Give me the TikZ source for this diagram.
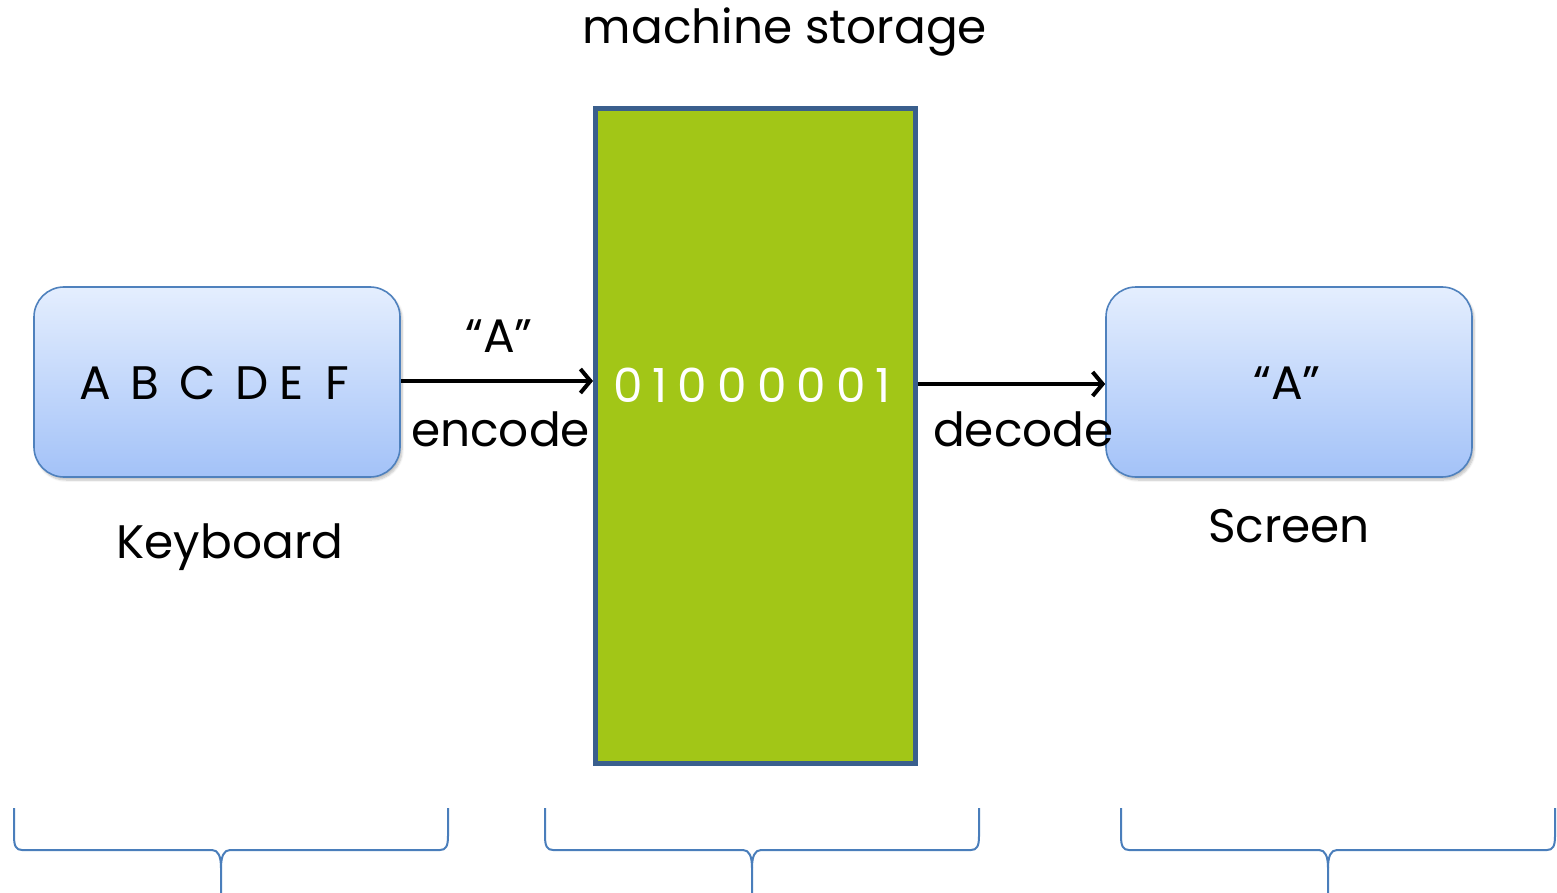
\documentclass[tikz,border=0pt]{standalone}
\usepackage{fontspec}
\setmainfont{Poppins}
\usetikzlibrary{arrows.meta,shadows.blur}

\definecolor{boxtop}{HTML}{E4EEFE}
\definecolor{boxbot}{HTML}{A3C2F8}
\definecolor{boxline}{HTML}{4F81BD}
\definecolor{storefill}{HTML}{A2C617}
\definecolor{storeline}{HTML}{3A5F8D}
\definecolor{braceline}{HTML}{4A7EBB}

% a curly bracket opening upwards: left end, middle, right end
\newcommand{\groupbrace}[3]{%
  \draw[bracestyle] (#1,808) -- (#1,836) .. controls (#1,846) and (#1+2,850) .. (#1+8,850)
    -- (#2-9,850) .. controls (#2-3,850) and (#2,856) .. (#2,868) -- (#2,893);
  \draw[bracestyle] (#3,808) -- (#3,836) .. controls (#3,846) and (#3-2,850) .. (#3-8,850)
    -- (#2+9,850) .. controls (#2+3,850) and (#2,856) .. (#2,868);
}

\begin{document}
\begin{tikzpicture}[x=1pt,y=-1pt,
  devbox/.style={draw=boxline, line width=1.6pt, rounded corners=30pt,
    top color=boxtop, bottom color=boxbot,
    minimum width=366pt, minimum height=190pt,
    blur shadow={shadow xshift=2pt, shadow yshift=-3pt, shadow blur steps=6, shadow opacity=25}},
  storebox/.style={draw=storeline, line width=5pt, fill=storefill,
    minimum width=320pt, minimum height=655pt},
  flow/.style={line width=4pt, -{Straight Barb[length=10pt,width=24pt,line width=4pt]}},
  big/.style={font=\fontsize{47}{54}\selectfont, inner sep=0pt},
  bracestyle/.style={draw=braceline, line width=2pt}
]
\useasboundingbox (0,0) rectangle (1557,893);

% devices and storage
\node[devbox] (kb) at (217,382) {};
\node[devbox] (scr) at (1289,382) {};

% labels under the arrows
\node[big, anchor=base west] (enc) at (411,446) {encode};
\node[big, anchor=base west] (dec) at (933,446) {decode};

\node[storebox] (store) at (755.5,436) {};

\node[big] (kbtext) at (214,383) {A\hspace{20pt}B\hspace{20pt}C\hspace{20pt}D\hspace{10pt}E\hspace{22pt}F};
\node[big] (scrtext) at (1287,383) {“A”};
\node[big, anchor=base] (kblabel) at (230,558) {Keyboard};
\node[big, anchor=base] (scrlabel) at (1289,542) {Screen};
\node[big, anchor=base] (title) at (785,44) {machine storage};
\node[big, anchor=base] (qa) at (499,352) {“A”};
\node[big, text=white] (bits) at (752,385) {0\hspace{10pt}1\hspace{10pt}0\hspace{10pt}0\hspace{10pt}0\hspace{10pt}0\hspace{10pt}0\hspace{10pt}1};

% connectors
\draw[flow] (kb.east |- 0,381) -- (store.west |- 0,381);
\draw[flow] (store.east |- 0,384) -- (scr.west |- 0,384);

% grouping brackets along the bottom
\groupbrace{14}{221}{448}
\groupbrace{545}{752}{979}
\groupbrace{1121}{1328}{1555}
\end{tikzpicture}
\end{document}
